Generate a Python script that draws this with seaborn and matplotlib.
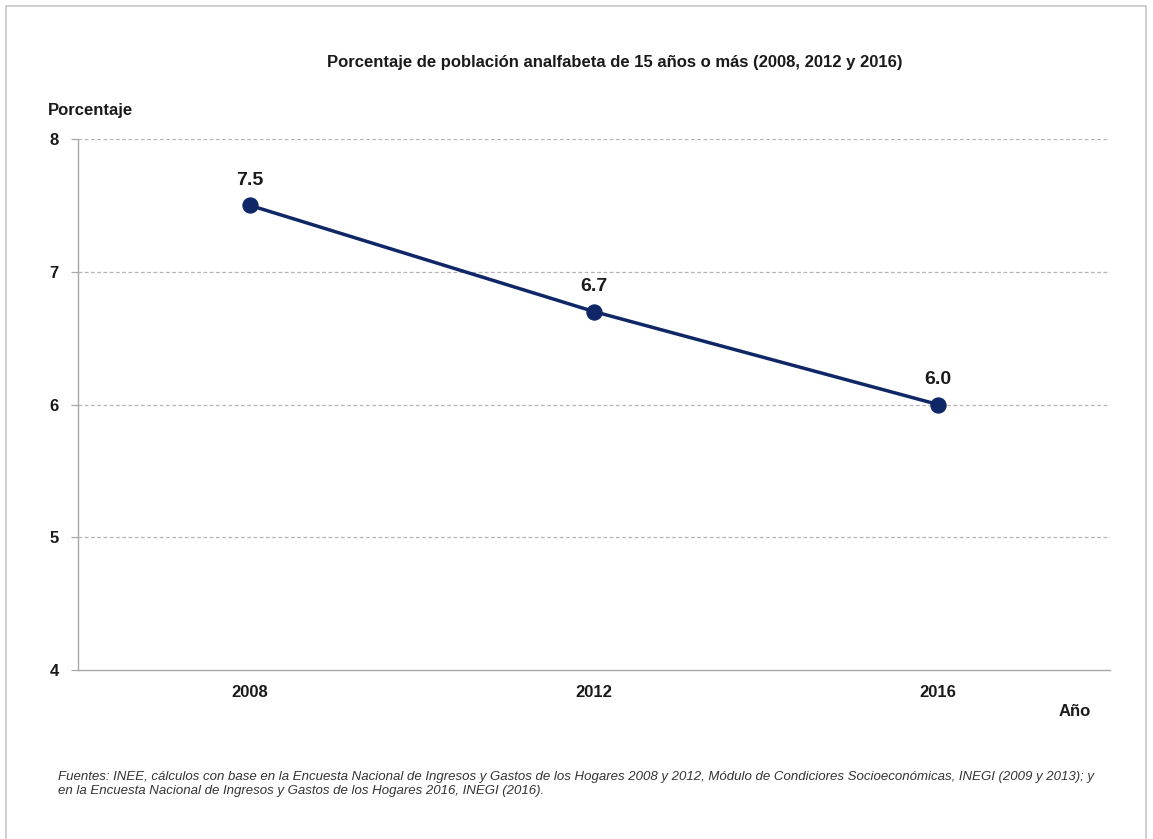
import pandas as pd
import matplotlib
matplotlib.use("Agg")
import matplotlib.pyplot as plt
import seaborn as sns
from matplotlib.patches import Rectangle

# data
anios = ["2008", "2012", "2016"]
porcentajes = [7.5, 6.7, 6.0]
y_ticks = [4, 5, 6, 7, 8]

titulo = "Porcentaje de población analfabeta de 15 años o más (2008, 2012 y 2016)"
fuente = ("Fuentes: INEE, cálculos con base en la Encuesta Nacional de Ingresos y Gastos de los Hogares 2008 y 2012, "
          "Módulo de Condiciores Socioeconómicas, INEGI (2009 y 2013); y\n"
          "en la Encuesta Nacional de Ingresos y Gastos de los Hogares 2016, INEGI (2016).")

sns.set_theme(style="white")
plt.rcParams['font.family'] = ['Liberation Sans', 'DejaVu Sans']

df = pd.DataFrame({"anio": anios, "pct": porcentajes})
color = "#0f2766"

fig = plt.figure(figsize=(11.53, 8.39), dpi=100)
ax = fig.add_axes([78 / 1153, 1 - 670 / 839, (1110 - 78) / 1153, (670 - 139) / 839])

sns.lineplot(data=df, x="anio", y="pct", ax=ax, color=color, linewidth=2.5,
             marker="o", markersize=11, markeredgecolor=color, markerfacecolor=color)

for x, v in zip(range(len(anios)), porcentajes):
    ax.annotate(f"{v:.1f}", (x, v), xytext=(0, 12), textcoords="offset points",
                ha="center", va="bottom", fontsize=14, fontweight="bold", color="#1a1a1a")

ax.set_xlim(-0.5, len(anios) - 0.5)
ax.set_ylim(min(y_ticks), max(y_ticks))
ax.set_yticks(y_ticks)
ax.set_xlabel("")
ax.set_ylabel("")

for t in y_ticks[1:]:
    ax.axhline(t, color="#b5b5b5", linestyle=(0, (3, 2)), linewidth=0.9, zorder=0)

for side in ["top", "right"]:
    ax.spines[side].set_visible(False)
for side in ["left", "bottom"]:
    ax.spines[side].set_color("#a8a8a8")
    ax.spines[side].set_linewidth(1.0)

ax.tick_params(axis="y", length=5, color="#a8a8a8", width=0.9, pad=9, left=True)
ax.tick_params(axis="x", length=0, pad=11)
for lbl in ax.get_xticklabels() + ax.get_yticklabels():
    lbl.set_fontweight("bold")
    lbl.set_fontsize(12)
    lbl.set_color("#1a1a1a")

fig.text(615 / 1153, 1 - 62 / 839, titulo, ha="center", va="center",
         fontsize=12, fontweight="bold", color="#1a1a1a")
fig.text(48 / 1153, 1 - 110 / 839, "Porcentaje", ha="left", va="center",
         fontsize=12, fontweight="bold", color="#1a1a1a")
fig.text(1075 / 1153, 1 - 711 / 839, "Año", ha="center", va="center",
         fontsize=12, fontweight="bold", color="#1a1a1a")
fig.text(58 / 1153, 1 - 784 / 839, fuente, ha="left", va="center", fontsize=9.5,
         fontstyle="italic", color="#333333", linespacing=1.2)

fig.patches.append(Rectangle((6 / 1153, -0.01), (1146 - 6) / 1153, 1 - 6 / 839 + 0.01,
                             transform=fig.transFigure, fill=False,
                             edgecolor="#c8c8c8", linewidth=1.2))

fig.savefig("out.png", dpi=100)
